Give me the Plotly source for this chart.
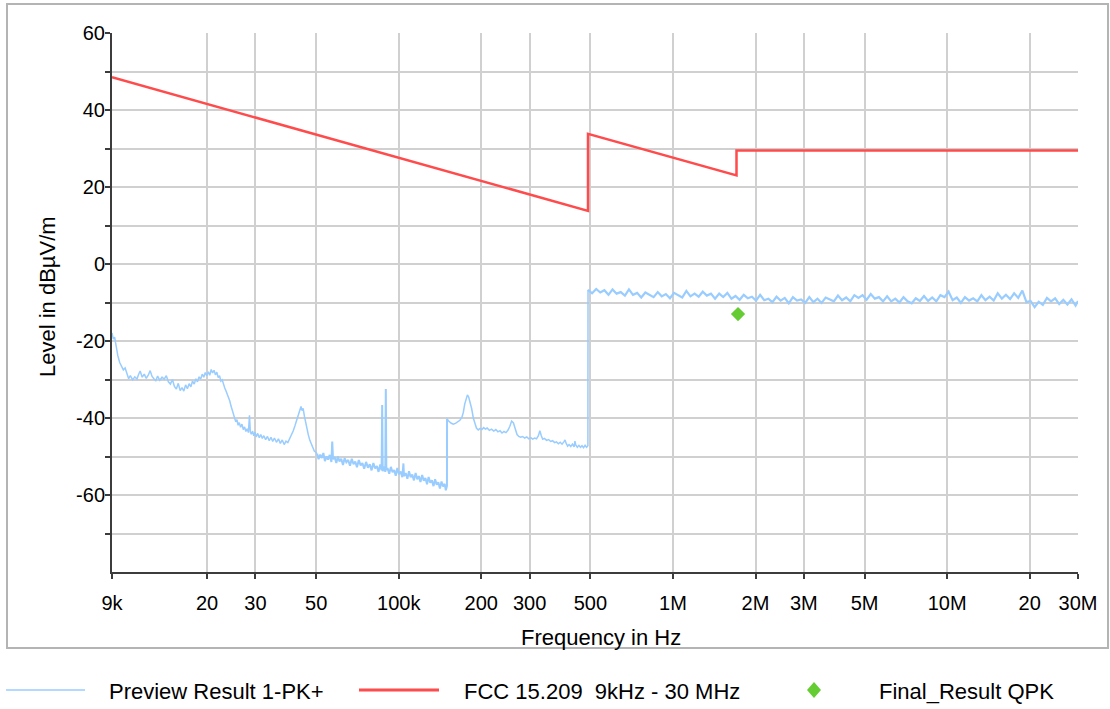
import plotly.graph_objects as go

# ---------------- data ----------------
# Preview Result 1-PK+ (frequency in kHz, level in dBµV/m)
pk_low_khz = [
    9.0, 9.1, 9.2, 9.3, 9.45, 9.6, 9.75, 9.9, 10.05, 10.2, 10.35, 10.5, 10.7, 10.9,
    11.1, 11.25, 11.4, 11.6, 11.8, 12.0, 12.2, 12.4, 12.6, 12.8, 13.0, 13.2, 13.45,
    13.7, 13.95, 14.2, 14.45, 14.7, 14.95, 15.2, 15.45, 15.7, 15.95, 16.2, 16.45,
    16.7, 16.95, 17.2, 17.45, 17.7, 17.95, 18.2, 18.45, 18.7, 18.95, 19.2, 19.45,
    19.7, 19.95, 20.2, 20.45, 20.7, 20.95, 21.2, 21.45, 21.7, 21.95, 22.2, 22.45,
    22.7, 22.95, 23.2, 23.45, 23.7, 23.95, 24.2, 24.45, 24.7, 24.95, 25.2, 25.45,
    25.7, 25.95, 26.2, 26.5, 26.8, 27.1, 27.4, 27.7, 28.0, 28.3, 28.55, 28.75, 29.0,
    29.3, 29.6, 29.9, 30.2, 30.6, 31.0, 31.4, 31.8, 32.2, 32.7, 33.2, 33.7, 34.2,
    34.7, 35.2, 35.8, 36.4, 37.0, 37.6, 38.2, 38.8, 39.4, 40.0, 40.6, 41.2, 41.8,
    42.4, 43.0, 43.5, 44.0, 44.4, 44.8, 45.3, 45.8, 46.3, 46.8, 47.4, 48.0, 48.6,
    49.2, 49.8,
]
pk_low_db = [
    -17.9, -19.5, -19.0, -21.5, -23.8, -25.6, -26.4, -27.5, -27.0, -28.6, -29.8,
    -29.0, -30.1, -29.3, -29.9, -28.7, -27.8, -29.4, -28.6, -29.7, -28.9, -27.7,
    -29.2, -29.8, -30.3, -29.1, -30.2, -29.4, -29.9, -29.0, -30.6, -31.2, -30.0,
    -31.8, -32.5, -31.0, -32.9, -32.1, -33.0, -31.4, -32.4, -31.1, -31.9, -30.4,
    -31.2, -29.8, -30.6, -29.3, -29.9, -28.6, -29.4, -28.2, -29.0, -28.0, -28.9,
    -27.4, -28.3, -27.6, -28.8, -28.1, -29.5, -29.0, -30.4, -30.1, -31.6, -32.2,
    -33.0, -33.8, -34.6, -35.6, -36.9, -37.8, -38.9, -39.8, -41.0, -40.4, -41.9,
    -41.2, -42.4, -41.6, -43.0, -42.3, -43.5, -42.8, -43.8, -39.3, -43.6, -44.2,
    -43.4, -44.6, -43.7, -44.9, -44.0, -45.1, -44.3, -45.3, -44.6, -45.6, -44.8,
    -45.9, -45.0, -46.1, -45.2, -46.3, -45.4, -46.6, -45.7, -46.9, -46.0, -46.4,
    -45.4, -44.6, -43.4, -42.1, -40.6, -39.4, -37.6, -37.0, -38.1, -37.5, -39.6,
    -41.4, -43.0, -44.4, -45.8, -46.7, -47.8, -48.6, -48.9,
]

pk_band_khz = [
    50.4, 51.0, 51.7, 52.4, 53.1, 53.8, 54.5, 55.2, 56.0, 56.8, 57.2,
    57.6, 58.4, 59.2, 60.0, 60.8, 61.7, 62.6, 63.5, 64.4, 65.4, 66.4, 67.4, 68.4,
    69.4, 70.4, 71.5, 72.6, 73.7, 74.8, 76.0, 77.2, 78.4, 79.6, 80.8, 82.0, 83.2,
    84.4, 85.6, 86.6, 87.0, 87.4, 88.6, 89.3, 89.7, 90.1, 91.0, 92.3, 93.6, 94.9,
    96.2, 97.5, 98.8, 100.2, 101.6, 103.0, 104.0, 104.5, 106.0, 107.5, 109.0, 110.5,
    112.0, 113.6, 115.2, 116.8, 118.4, 120.0, 121.7, 123.4, 125.1, 126.8, 128.5,
    130.3, 132.1, 133.9, 135.7, 137.5, 139.4, 141.3, 143.2, 145.1, 147.0, 148.5,
    149.9,
]
pk_band_db = [
    -49.3, -50.7, -49.5, -50.4, -49.1, -51.2, -50.0, -50.8, -49.6, -51.4, -46.1,
    -50.7, -50.2, -51.7, -50.0, -51.3, -50.6, -52.2, -50.4, -51.5, -50.9, -52.4,
    -50.6, -52.0, -51.3, -52.8, -50.9, -52.3, -51.7, -53.2, -51.4, -52.9, -52.0,
    -53.6, -51.7, -53.1, -52.5, -54.0, -52.1, -53.6, -36.6, -53.8, -52.6, -54.0,
    -32.5, -53.5, -53.0, -54.5, -52.7, -54.1, -53.5, -55.0, -53.0, -54.6, -53.9,
    -55.4, -51.8, -55.1, -54.3, -55.8, -53.8, -55.4, -54.7, -56.2, -54.3, -55.9,
    -55.1, -56.6, -54.8, -56.3, -55.6, -57.2, -55.3, -56.8, -56.2, -57.7, -55.9,
    -57.3, -56.7, -58.3, -56.5, -57.8, -57.1, -58.8, -57.6,
]

pk_mid_khz = [
    150.0, 152, 155, 158, 161, 164, 167, 170, 172, 174, 176, 178, 180, 182, 184.5,
    187, 189.5, 192, 195, 198, 201, 204, 207, 210, 214, 218, 222, 226, 230, 234,
    238, 242, 246, 250, 254, 258, 262, 266, 270, 274, 278, 283, 288, 293, 298, 303,
    308, 313, 318, 323, 327, 331, 335, 340, 346, 352, 358, 364, 370, 376, 382, 388,
    394, 400, 404, 408, 413, 418, 424, 430, 436, 439, 442, 448, 454, 460, 466, 472,
    478, 484, 489.5,
]
pk_mid_db = [
    -40.2, -40.8, -41.3, -41.6, -41.4, -41.0, -40.6, -39.8, -38.5, -36.4, -34.8,
    -34.0, -34.6, -35.8, -37.6, -40.0, -41.6, -42.6, -43.1, -42.7, -43.0, -42.5,
    -42.9, -42.6, -43.2, -42.9, -43.4, -43.0, -43.6, -43.3, -43.9, -43.5, -43.8,
    -43.2, -42.2, -40.8, -41.3, -42.9, -44.3, -44.8, -45.0, -44.8, -45.2, -44.9,
    -45.4, -45.1, -45.5, -45.2, -45.4, -44.6, -43.3, -44.6, -45.5, -45.3, -45.8,
    -45.6, -46.1, -45.9, -46.4, -46.2, -46.7, -46.3, -46.8, -46.2, -45.7, -46.6,
    -47.3, -46.9, -47.4, -46.8, -47.5, -46.0, -47.0, -47.6, -47.1, -47.6, -47.2,
    -47.7, -47.1, -47.6, -47.2,
]

pk_high_khz = [
    490, 507, 525, 543, 562, 582, 602, 623, 645, 668, 691, 715, 740, 766, 793, 821,
    850, 880, 910, 942, 975, 1009, 1045, 1081, 1119, 1158, 1199, 1241, 1284, 1329,
    1376, 1424, 1474, 1525, 1579, 1634, 1691, 1750, 1812, 1875, 1941, 2009, 2079,
    2152, 2227, 2305, 2386, 2469, 2556, 2645, 2738, 2834, 2933, 3036, 3142, 3252,
    3366, 3483, 3605, 3731, 3862, 3997, 4137, 4282, 4432, 4587, 4747, 4913, 5085,
    5263, 5448, 5638, 5836, 6040, 6251, 6470, 6697, 6931, 7174, 7425, 7685, 7954,
    8232, 8520, 8818, 9127, 9447, 9777, 10120, 10470, 10840, 11220, 11610, 12020,
    12440, 12880, 13330, 13790, 14280, 14780, 15290, 15830, 16380, 16960, 17550,
    18160, 18800, 19460, 20140, 20840, 21570, 22330, 23110, 23920, 24760, 25620,
    26520, 27450, 28410, 29400, 30000,
]
pk_high_db = [
    -6.7, -7.6, -6.5, -7.4, -6.8, -8.0, -6.6, -7.7, -7.3, -8.2, -6.6, -8.0, -7.5,
    -8.7, -7.4, -7.9, -8.6, -7.3, -8.4, -7.8, -8.9, -7.5, -8.1, -8.7, -7.0, -8.4,
    -7.7, -8.5, -7.2, -8.2, -7.7, -9.0, -7.7, -8.6, -7.5, -9.0, -8.3, -9.3, -8.0,
    -8.9, -8.5, -9.5, -8.0, -9.4, -9.0, -9.9, -8.5, -9.5, -8.8, -10.2, -8.6, -9.5,
    -9.2, -10.1, -8.6, -9.9, -9.0, -10.1, -8.7, -9.2, -9.7, -8.2, -9.4, -8.7, -9.7,
    -8.1, -8.8, -8.1, -9.3, -7.8, -9.0, -8.6, -9.7, -8.4, -9.7, -9.0, -10.0, -8.6,
    -9.7, -10.2, -8.9, -9.6, -8.3, -9.6, -8.7, -9.7, -8.1, -8.6, -7.2, -9.4, -8.7,
    -10.1, -8.6, -9.5, -8.9, -9.7, -8.1, -9.4, -8.5, -9.5, -7.6, -9.0, -8.0, -9.1,
    -7.6, -8.8, -6.9, -9.9, -9.6, -11.2, -9.8, -10.6, -8.8, -9.7, -8.9, -10.4,
    -9.3, -10.5, -9.2, -10.8, -9.6,
]

# FCC 15.209 limit line, 9 kHz - 30 MHz (break points)
limit_hz = [9e3, 490e3, 490e3, 1.705e6, 1.705e6, 30e6]
limit_db = [48.5, 13.8, 33.8, 23.0, 29.5, 29.5]

# Final_Result QPK
qpk_hz = [1.727e6]
qpk_db = [-13.0]

# axis ticks
x_tick_vals = [9e3, 2e4, 3e4, 5e4, 1e5, 2e5, 3e5, 5e5, 1e6, 2e6, 3e6, 5e6, 1e7, 2e7, 3e7]
x_tick_text = ["9k", "20", "30", "50", "100k", "200", "300", "500", "1M",
               "2M", "3M", "5M", "10M", "20", "30M"]
y_tick_vals = [-70, -60, -50, -40, -30, -20, -10, 0, 10, 20, 30, 40, 50, 60]
y_tick_text = ["", "-60", "", "-40", "", "-20", "", "0", "", "20", "", "40", "", "60"]

# ---------------- figure ----------------
PK_COLOR = "#99CCFF"
LIMIT_COLOR = "#FF4B4B"
QPK_COLOR = "#66CC33"
FONT = "Arial, Liberation Sans, sans-serif"


def khz_to_hz(values):
    return [v * 1e3 for v in values]


fig = go.Figure()
# peak preview: the dense noisy stretches are drawn a little heavier
pk_parts = [
    (pk_low_khz + pk_band_khz[:1], pk_low_db + pk_band_db[:1], 1.5),
    (pk_band_khz + pk_mid_khz[:1], pk_band_db + pk_mid_db[:1], 2.0),
    (pk_mid_khz + pk_high_khz[:1], pk_mid_db + pk_high_db[:1], 1.5),
    (pk_high_khz, pk_high_db, 2.2),
]
for i, (fx, fy, w) in enumerate(pk_parts):
    fig.add_trace(go.Scatter(
        x=khz_to_hz(fx), y=fy, mode="lines", name="Preview Result 1-PK+",
        legendgroup="pk", showlegend=(i == 0),
        line=dict(color=PK_COLOR, width=w),
    ))
fig.add_trace(go.Scatter(
    x=limit_hz, y=limit_db, mode="lines", name="FCC 15.209  9kHz - 30 MHz",
    line=dict(color=LIMIT_COLOR, width=2.5),
))
fig.add_trace(go.Scatter(
    x=qpk_hz, y=qpk_db, mode="markers", name="Final_Result QPK",
    marker=dict(symbol="diamond", color=QPK_COLOR, size=11, line=dict(width=0)),
))

W, H = 1110, 709
L, R, T, B = 112, 32, 33, 137
PW, PH = W - L - R, H - T - B


def px(xp):
    return (xp - L) / PW


def py(yp):
    return (H - B - yp) / PH


shapes = [
    # outer frame
    dict(type="rect", xref="paper", yref="paper", x0=px(7), x1=px(1108),
         y0=py(648), y1=py(4), line=dict(color="#B4B4B4", width=2), layer="below"),
    # legend samples
    dict(type="line", xref="paper", yref="paper", x0=px(6), x1=px(85),
         y0=py(690), y1=py(690), line=dict(color=PK_COLOR, width=1.5)),
    dict(type="line", xref="paper", yref="paper", x0=px(359), x1=px(439),
         y0=py(690), y1=py(690), line=dict(color=LIMIT_COLOR, width=3)),
    dict(type="path", xref="paper", yref="paper",
         path=f"M {px(814)} {py(682)} L {px(821)} {py(690)} L {px(814)} {py(698)} "
              f"L {px(807)} {py(690)} Z",
         fillcolor=QPK_COLOR, line=dict(width=0)),
]

TXT = dict(size=22, color="#000000", family=FONT)
annotations = [
    dict(text="Frequency in Hz", xref="paper", yref="paper", x=px(601), y=py(637),
         xanchor="center", yanchor="middle", showarrow=False, font=TXT),
    dict(text="Level in dBµV/m", xref="paper", yref="paper", x=px(47), y=py(297),
         xanchor="center", yanchor="middle", textangle=-90, showarrow=False, font=TXT),
    dict(text="Preview Result 1-PK+", xref="paper", yref="paper", x=px(107), y=py(692),
         xanchor="left", yanchor="middle", showarrow=False, font=TXT),
    dict(text="FCC 15.209\u00a0\u00a09kHz - 30 MHz", xref="paper", yref="paper",
         x=px(462), y=py(692), xanchor="left", yanchor="middle", showarrow=False,
         font=TXT),
    dict(text="Final_Result QPK", xref="paper", yref="paper", x=px(877), y=py(692),
         xanchor="left", yanchor="middle", showarrow=False, font=TXT),
]

fig.update_layout(
    width=W, height=H,
    margin=dict(l=L, r=R, t=T, b=B),
    paper_bgcolor="white", plot_bgcolor="white",
    showlegend=False,
    font=dict(family=FONT, size=20, color="#000000"),
    shapes=shapes,
    annotations=annotations,
)
fig.update_xaxes(
    type="log", range=[3.9542425, 7.4771213],
    tickmode="array", tickvals=x_tick_vals, ticktext=x_tick_text,
    showgrid=True, gridcolor="#D0D0D0", gridwidth=2,
    showline=True, linecolor="#3C3C3C", linewidth=2,
    ticks="outside", ticklen=5, tickwidth=2, tickcolor="#3C3C3C",
    ticklabelstandoff=7,
    tickfont=dict(size=20, family=FONT), zeroline=False,
)
fig.update_yaxes(
    range=[-80, 60],
    tickmode="array", tickvals=y_tick_vals, ticktext=y_tick_text,
    showgrid=True, gridcolor="#D0D0D0", gridwidth=2,
    showline=True, linecolor="#3C3C3C", linewidth=2,
    ticks="outside", ticklen=5, tickwidth=2, tickcolor="#3C3C3C",
    ticklabelstandoff=-4,
    tickfont=dict(size=20, family=FONT), zeroline=False,
)

fig.write_html("out.html")
